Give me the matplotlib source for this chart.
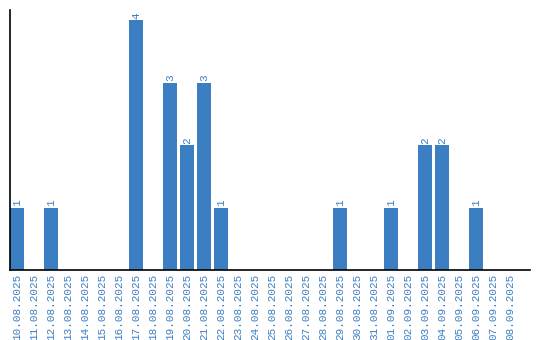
import matplotlib
matplotlib.use("Agg")
import matplotlib.pyplot as plt

dates = ["10.08.2025", "11.08.2025", "12.08.2025", "13.08.2025", "14.08.2025",
         "15.08.2025", "16.08.2025", "17.08.2025", "18.08.2025", "19.08.2025",
         "20.08.2025", "21.08.2025", "22.08.2025", "23.08.2025", "24.08.2025",
         "25.08.2025", "26.08.2025", "27.08.2025", "28.08.2025", "29.08.2025",
         "30.08.2025", "31.08.2025", "01.09.2025", "02.09.2025", "03.09.2025",
         "04.09.2025", "05.09.2025", "06.09.2025", "07.09.2025", "08.09.2025"]
counts = [1, 0, 1, 0, 0, 0, 0, 4, 0, 3,
          2, 3, 1, 0, 0, 0, 0, 0, 0, 1,
          0, 0, 1, 0, 2, 2, 0, 1, 0, 0]

blue = "#3b7ec2"
mono = ["Liberation Mono", "DejaVu Sans Mono"]

fig = plt.figure(figsize=(5.4, 3.4), dpi=100)
ax = fig.add_axes([10 / 540, 70 / 340, 520 / 540, 260 / 340])

bw = 14 / 17
xs = list(range(len(dates)))
ax.bar(xs, counts, width=bw, align="edge", color=blue)

for x, c in zip(xs, counts):
    if c > 0:
        ax.text(x + bw / 2, c + 0.02, str(c), rotation=90, ha="center", va="bottom",
                color=blue, fontsize=7.9, family=mono)

ax.set_xlim(0, 520 / 17)
ax.set_ylim(0, 4.16)
ax.set_xticks([x + bw / 2 for x in xs])
ax.set_xticklabels(dates, rotation=90, color=blue, fontsize=7.9, family=mono)
ax.tick_params(axis="x", length=0, pad=3)
ax.set_yticks([])
for s in ["top", "right"]:
    ax.spines[s].set_visible(False)
for s in ["left", "bottom"]:
    ax.spines[s].set_color("black")
    ax.spines[s].set_linewidth(1.2)

fig.savefig("out.png", dpi=100)
